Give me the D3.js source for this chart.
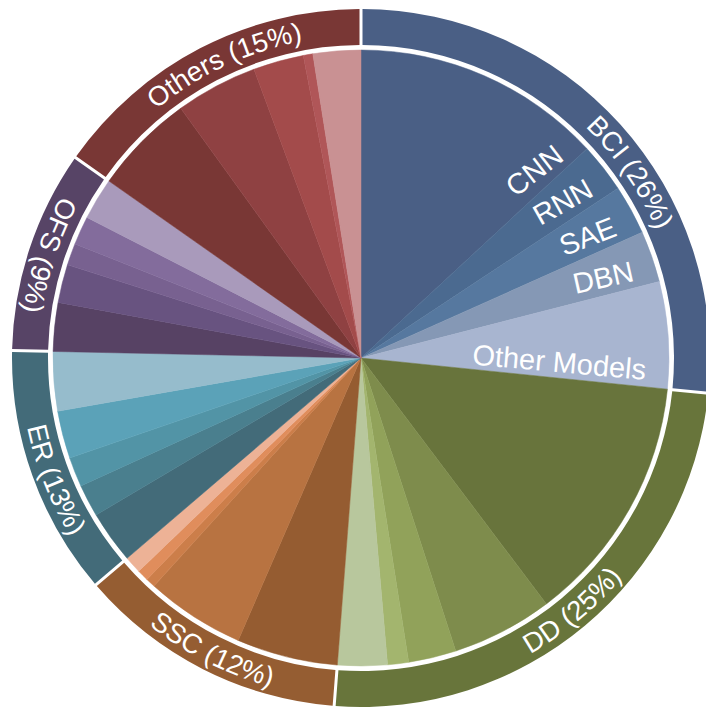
<!DOCTYPE html>
<html>
<head>
<meta charset="utf-8">
<script src="https://cdn.jsdelivr.net/npm/d3@7"></script>
<style>
  body { margin: 0; background: #fff; }
  text { font-family: "Liberation Sans", Arial, Helvetica, sans-serif; fill: #fff; }
</style>
</head>
<body>
<div class="chart"></div>
<script>
// categories (outer ring) and their sub-slices (inner pie), values in %
var categories = ["BCI", "DD", "SSC", "ER", "OFS", "Others"];
var categoryLabels = ["BCI (26%)", "DD (25%)", "SSC (12%)", "ER (13%)", "OFS (9%)", "Others (15%)"];
var subValues = [
  [13.1, 2.6, 2.6, 2.7, 5.6],
  [13.1, 5.3, 2.5, 1.1, 2.6],
  [5.3, 5.2, 0.5, 0.6, 0.9],
  [2.75, 1.7, 1.55, 2.5, 3.1],
  [2.55, 2.0, 1.15, 1.5, 2.2],
  [5.3, 4.3, 2.65, 0.5, 2.5]
];
var subLabels = [
  ["CNN", "RNN", "SAE", "DBN", "Other Models"],
  [], [], [], [], []
];

var ringColors = ["#4a5f85", "#68753b", "#955d32", "#436b79", "#574466", "#793735"];
var subColors = [
  ["#4a5f85", "#4b6a90", "#56789f", "#8598b5", "#a8b5d0"],
  ["#68743c", "#7e8c4c", "#91a25a", "#a3b56e", "#b8c79d"],
  ["#955c31", "#b87341", "#cc7e4a", "#e08d5c", "#edb296"],
  ["#436b79", "#4a7f8e", "#5294a6", "#5ba2b8", "#96bccc"],
  ["#574264", "#685380", "#786190", "#836c9c", "#a99abb"],
  ["#793735", "#8f4142", "#a34b4b", "#b05658", "#c99193"]
];

var svgWidth = 706;
var svgHeight = 708;
var cx = 361, cy = 358;
var pieR = 308, ringIn = 313, ringOut = 349;

var svg = d3.select(".chart")
  .append("svg")
  .attr("width", svgWidth)
  .attr("height", svgHeight);

var g = svg.append("g")
  .attr("transform", `translate(${cx}, ${cy})`);

// flatten sub slices
var flat = [];
subValues.forEach(function(vals, ci) {
  vals.forEach(function(v, si) {
    flat.push({cat: ci, sub: si, value: v, label: subLabels[ci][si] || null});
  });
});

var pie = d3.pie().sort(null).value(d => d.value);
var slices = pie(flat);

var arcInner = d3.arc().innerRadius(0).outerRadius(pieR);

g.selectAll("path.slice")
  .data(slices)
  .enter()
  .append("path")
  .attr("class", "slice")
  .attr("d", arcInner)
  .attr("fill", d => subColors[d.data.cat][d.data.sub])
  .attr("stroke", d => subColors[d.data.cat][d.data.sub])
  .attr("stroke-width", 0.5);

// ring segments from the sub slice angles
var ring = categories.map(function(c, ci) {
  var s = slices.filter(d => d.data.cat === ci);
  return {cat: ci, startAngle: s[0].startAngle, endAngle: s[s.length - 1].endAngle};
});

var arcRing = d3.arc()
  .innerRadius(ringIn)
  .outerRadius(ringOut)
  .padRadius(330)
  .padAngle(3 / 330);

g.selectAll("path.ring")
  .data(ring)
  .enter()
  .append("path")
  .attr("class", "ring")
  .attr("d", arcRing)
  .attr("fill", d => ringColors[d.cat]);

// curved labels on ring
function pt(a, r) {
  return [r * Math.sin(a), -r * Math.cos(a)];
}
var rad = Math.PI / 180;
var labelNudge = {0: 7.5 * rad, 3: -2 * rad, 5: 2.5 * rad};
var flipCats = [1, 2, 3, 4];
var halfW = 40 * rad;

var defs = svg.append("defs");
ring.forEach(function(d) {
  var mid = (d.startAngle + d.endAngle) / 2 + (labelNudge[d.cat] || 0);
  var flip = flipCats.indexOf(d.cat) >= 0;
  var r = flip ? 341 : 322;
  var p0, p1, sweep;
  if (flip) {
    p0 = pt(mid + halfW, r); p1 = pt(mid - halfW, r); sweep = 0;
  } else {
    p0 = pt(mid - halfW, r); p1 = pt(mid + halfW, r); sweep = 1;
  }
  defs.append("path")
    .attr("id", "lp" + d.cat)
    .attr("d", `M${p0[0]},${p0[1]} A${r},${r} 0 0 ${sweep} ${p1[0]},${p1[1]}`);
  g.append("text")
    .attr("font-size", "27.5px")
    .append("textPath")
    .attr("href", "#lp" + d.cat)
    .attr("startOffset", "50%")
    .attr("text-anchor", "middle")
    .text(categoryLabels[d.cat]);
});

// inner labels along slice edges
g.selectAll("text.sub")
  .data(slices.filter(d => d.data.label))
  .enter()
  .append("text")
  .attr("class", "sub")
  .attr("font-size", "29px")
  .attr("text-anchor", "end")
  .attr("transform", function(d) {
    var endDeg = d.endAngle / rad;
    var p = pt((endDeg - 1.4) * rad, 285);
    var rot = (endDeg - 90) * 0.88;
    return `translate(${p[0]}, ${p[1]}) rotate(${rot})`;
  })
  .text(d => d.data.label);
</script>
</body>
</html>
